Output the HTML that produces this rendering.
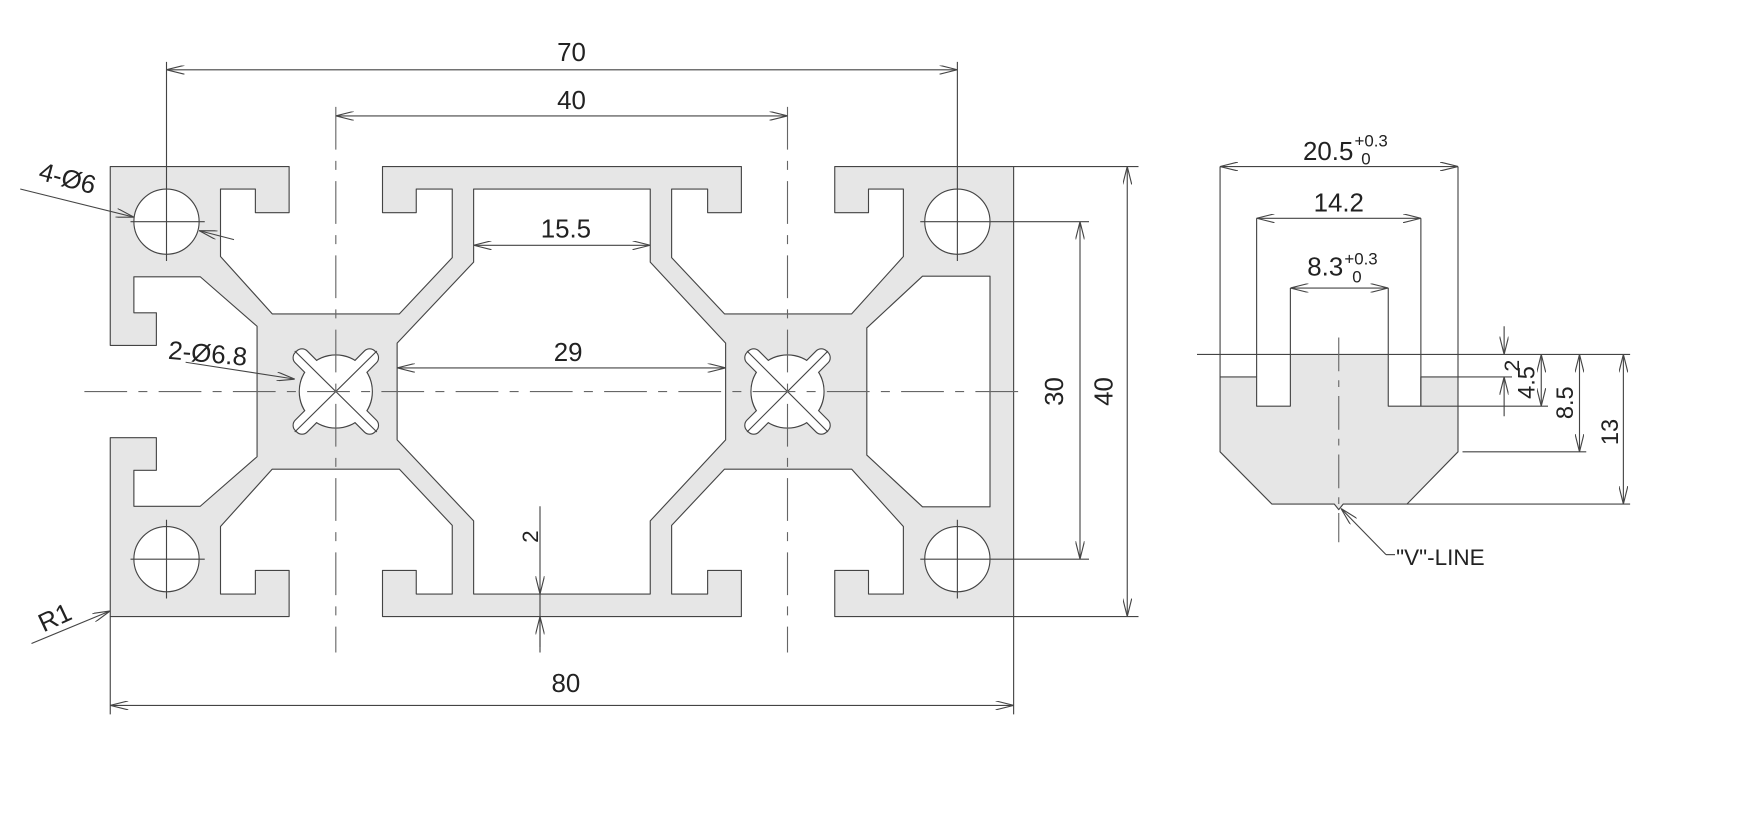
<!DOCTYPE html>
<html><head><meta charset="utf-8"><style>
html,body{margin:0;padding:0;background:#fff;}
svg{display:block;}
text{font-family:"Liberation Sans",Arial,sans-serif;fill:#222;}
</style></head><body>
<svg width="1764" height="818" viewBox="0 0 1568 727.1" preserveAspectRatio="none" xmlns="http://www.w3.org/2000/svg">
<defs>
<marker id="a" viewBox="0 0 16 8" refX="16" refY="4" markerWidth="16" markerHeight="8" markerUnits="userSpaceOnUse" orient="auto-start-reverse">
<path d="M0,0 L16,4 L0,8" fill="none" stroke="#444" stroke-width="1"/>
</marker>
</defs>
<g stroke="#444" stroke-width="1" stroke-linejoin="round">
<path fill="#e6e6e6" fill-rule="evenodd" d="
M98,148 L257,148 L257,189 L227,189 L227,168 L196,168 L196,228 L242,279 L355,279 L402,229 L402,168 L370,168 L370,189 L340,189 L340,148
L659,148 L659,189 L629,189 L629,168 L597,168 L597,229 L644,279 L757,279 L803,228 L803,168 L772,168 L772,189 L742,189 L742,148 L901,148
L901,548 L742,548 L742,507 L772,507 L772,528 L803,528 L803,468 L757,417 L644,417 L597,467 L597,528 L629,528 L629,507 L659,507 L659,548
L340,548 L340,507 L370,507 L370,528 L402,528 L402,467 L355,417 L242,417 L196,468 L196,528 L227,528 L227,507 L257,507 L257,548 L98,548
L98,389 L139,389 L139,418 L119,418 L119,450 L178,450 L228.5,406 L228.5,290 L178,246 L119,246 L119,278 L139,278 L139,307 L98,307 Z
M421,168 L578,168 L578,233 L645,305 L645,391 L578,463 L578,528 L421,528 L421,463 L353,391 L353,305 L421,233 Z
M820,245.5 L880,245.5 L880,450.5 L820,450.5 L770.5,404.5 L770.5,291.5 Z"/>
<circle cx="148" cy="197" r="29" fill="#fff"/>
<circle cx="851" cy="197" r="29" fill="#fff"/>
<circle cx="148" cy="497" r="29" fill="#fff"/>
<circle cx="851" cy="497" r="29" fill="#fff"/>
<g stroke-width="2">
<circle cx="298.5" cy="348" r="32"/><rect x="249" y="341" width="99" height="14" rx="6" transform="rotate(45 298.5 348)"/><rect x="249" y="341" width="99" height="14" rx="6" transform="rotate(-45 298.5 348)"/>
<circle cx="700" cy="348" r="32"/><rect x="650.5" y="341" width="99" height="14" rx="6" transform="rotate(45 700 348)"/><rect x="650.5" y="341" width="99" height="14" rx="6" transform="rotate(-45 700 348)"/>
</g>
<g fill="#fff" stroke="none">
<circle cx="298.5" cy="348" r="32"/><rect x="249" y="341" width="99" height="14" rx="6" transform="rotate(45 298.5 348)"/><rect x="249" y="341" width="99" height="14" rx="6" transform="rotate(-45 298.5 348)"/>
<circle cx="700" cy="348" r="32"/><rect x="650.5" y="341" width="99" height="14" rx="6" transform="rotate(45 700 348)"/><rect x="650.5" y="341" width="99" height="14" rx="6" transform="rotate(-45 700 348)"/>
</g>
<path fill="none" d="M262,312 L335,384 M335,312 L262,384 M664,312 L736,384 M736,312 L664,384"/>
<path fill="none" stroke="#666" stroke-dasharray="38,10,8,10" d="M75,348 H915 M298.5,95 V580 M700,95 V580"/>
<path fill="none" d="M148,55 V232 M116,197 H182 M148,462 V532 M116,497 H182 M851,55 V232 M818,197 H968 M851,462 V532 M818,497 H968"/>
<path fill="none" d="M901,148 H1012 M901,548 H1012 M98,548 V635 M901,548 V635 M480,528 V580"/>
<g fill="none" marker-start="url(#a)" marker-end="url(#a)">
<path d="M148,62 H851"/><path d="M298.5,103 H700"/><path d="M421,218 H578"/><path d="M353,327 H645"/><path d="M98,627 H901"/>
<path d="M960,197 V497"/><path d="M1002,148 V548"/>
<path d="M1084.5,148 H1296"/><path d="M1117,194 H1263"/><path d="M1147,256 H1234"/>
<path d="M1404,315 V401.6"/><path d="M1443,315 V448"/><path d="M1370,315 V361"/>
</g>
<g fill="none" marker-end="url(#a)">
<path d="M480,450 V528"/><path d="M480,575 V548"/>
<path d="M1337,290 V315"/><path d="M1337,370 V335"/>
<path d="M18,168 L119,193"/><path d="M208,213 L177,205"/>
<path d="M165,322 L262,337"/>
<path d="M28,572 L98,543"/>
<path d="M1232,493 L1192,452"/>
</g>
<path fill="none" d="M1232,493 L1240,493"/>
<path fill="#e6e6e6" d="M1147,315 L1234,315 L1234,361 L1263,361 L1263,335 L1296,335 L1296,401.6 L1250.7,448 L1194,448 L1190,453 L1186,448 L1130.5,448 L1084.5,401.6 L1084.5,335 L1117,335 L1117,361 L1147,361 Z"/>
<path fill="none" d="M1064,315 H1147 M1234,315 H1449 M1084.5,148 V335 M1296,148 V335 M1117,194 V335 M1263,194 V361 M1147,256 V315 M1234,256 V315 M1296,335 H1344 M1263,361 H1376 M1300,401.6 H1410 M1250.7,448 H1449"/>
<path fill="none" stroke="#666" stroke-dasharray="30,8,6,8" d="M1190,300 V482"/>
</g>
<g font-size="23">
<text x="508" y="54" text-anchor="middle">70</text>
<text x="508" y="97" text-anchor="middle">40</text>
<text x="503" y="211" text-anchor="middle">15.5</text>
<text x="505" y="321" text-anchor="middle">29</text>
<text x="503" y="615" text-anchor="middle">80</text>
<text transform="translate(945,348) rotate(-90)" text-anchor="middle">30</text>
<text transform="translate(989,348) rotate(-90)" text-anchor="middle">40</text>
<text transform="translate(478,477) rotate(-90)" text-anchor="middle" font-size="20">2</text>
<text transform="translate(58,166) rotate(15)" text-anchor="middle">4-Ø6</text>
<text transform="translate(184,322) rotate(5)" text-anchor="middle">2-Ø6.8</text>
<text transform="translate(52,556) rotate(-25)" text-anchor="middle">R1</text>
<text x="1203" y="142" text-anchor="end">20.5</text><text x="1204" y="130" font-size="15">+0.3</text><text x="1210" y="146" font-size="15">0</text>
<text x="1190" y="188" text-anchor="middle">14.2</text>
<text x="1194" y="245" text-anchor="end">8.3</text><text x="1195" y="235" font-size="15">+0.3</text><text x="1202" y="251" font-size="15">0</text>
<text transform="translate(1350,325) rotate(-90)" text-anchor="middle" font-size="19">2</text>
<text transform="translate(1364,340) rotate(-90)" text-anchor="middle" font-size="21">4.5</text>
<text transform="translate(1398,358) rotate(-90)" text-anchor="middle" font-size="21">8.5</text>
<text transform="translate(1438,384) rotate(-90)" text-anchor="middle" font-size="21">13</text>
<text x="1241" y="502" font-size="20">"V"-LINE</text>
</g>
</svg>
</body></html>
